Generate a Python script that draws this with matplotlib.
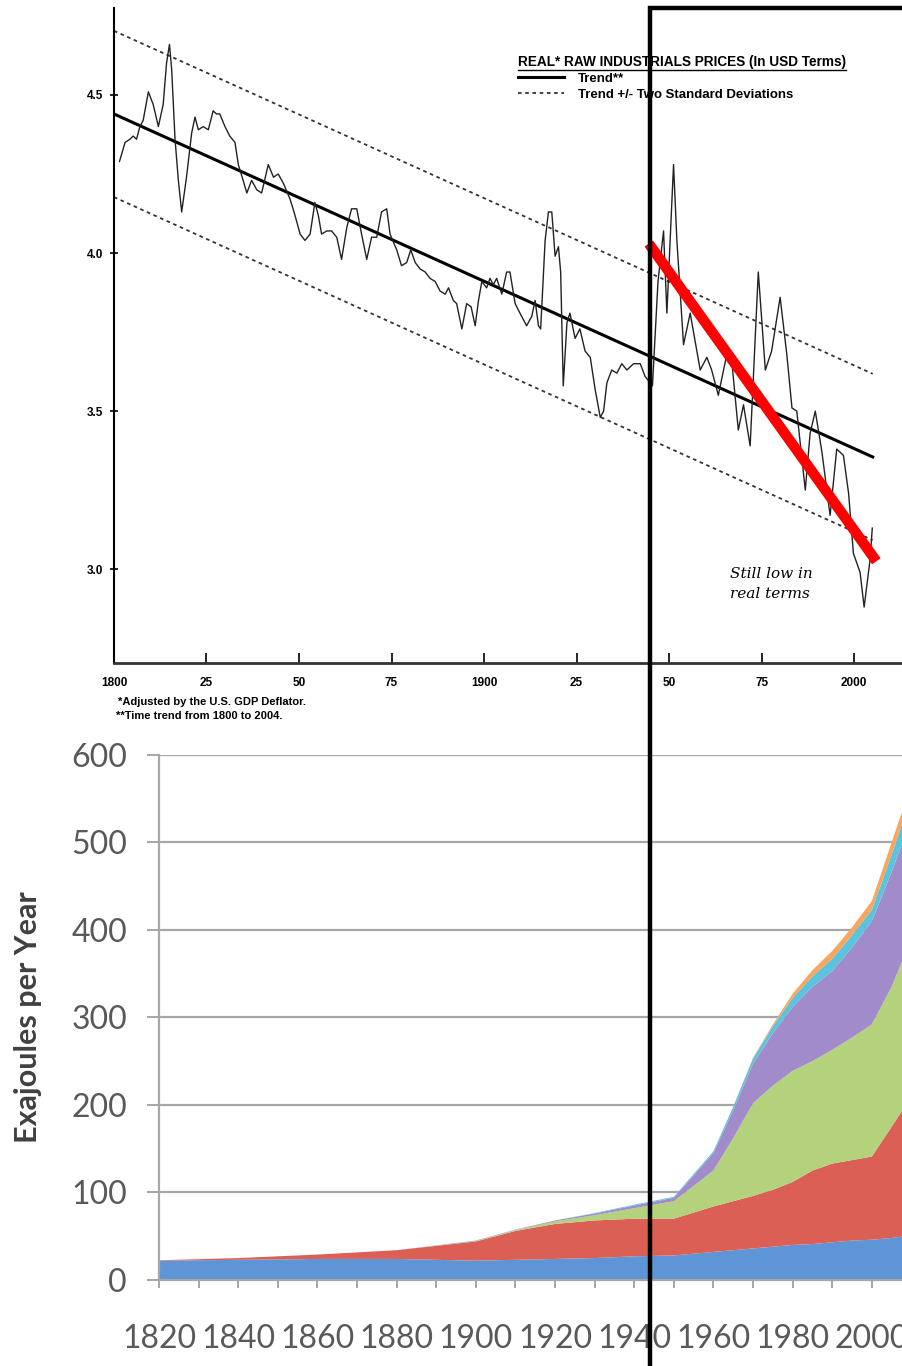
import matplotlib.pyplot as plt
from matplotlib.lines import Line2D
from matplotlib.patches import Rectangle

plt.rcParams['font.family'] = ['Liberation Sans', 'DejaVu Sans']

# --- top chart: real raw industrials prices (log scale values) ---
price_years = [1801.5, 1803, 1804.3, 1805.2, 1806.1, 1807, 1807.9, 1809.3, 1810.6, 1812,
               1813.3, 1814.2, 1815, 1815.6, 1816.5, 1817.4, 1818.3, 1819.6, 1821, 1821.9,
               1822.8, 1824.1, 1825.5, 1826.8, 1827.7, 1828.6, 1830, 1831.3, 1832.7, 1833.6,
               1834.9, 1835.9, 1837.2, 1838.6, 1839.9, 1841.7, 1843.1, 1844.4, 1845.8, 1847.6,
               1848.9, 1850.3, 1851.6, 1853, 1854.3, 1855.2, 1856.1, 1857.5, 1858.8, 1860.2,
               1861.5, 1862.9, 1864.2, 1865.6, 1866.9, 1868.3, 1869.6, 1871, 1872.3, 1873.7,
               1874.6, 1876.4, 1877.7, 1879.1, 1880.2, 1881.4, 1882.7, 1884.1, 1885.4, 1886.8,
               1888.1, 1889.5, 1890.4, 1891.7, 1892.6, 1894, 1895.3, 1896.5, 1897.6, 1898.5,
               1899.4, 1900.7, 1901.6, 1902.5, 1903.4, 1904.8, 1906.1, 1907, 1908.4, 1909.7,
               1911.5, 1912.9, 1913.8, 1914.7, 1915.3, 1916.5, 1917.4, 1918.3, 1919.2, 1920.1,
               1920.7, 1921.4, 1922.4, 1923.2, 1924.6, 1925.9, 1927.3, 1928.7, 1930, 1931.4,
               1932.3, 1933.2, 1934.5, 1935.9, 1937.2, 1938.6, 1940.4, 1942.2, 1943.5, 1945.5,
               1947, 1948.5, 1949.4, 1951.2, 1952.1, 1953.9, 1955.7, 1958.4, 1960.2, 1961.5,
               1963.3, 1965.6, 1967, 1968.7, 1970.1, 1971.9, 1974.1, 1976, 1977.7, 1980,
               1981.8, 1983.2, 1984.5, 1986.8, 1988.1, 1989.5, 1991.3, 1993.5, 1995.3, 1997.1,
               1998.5, 1999.8, 2001.6, 2002.7, 2004.3, 2004.9]
price_values = [4.29, 4.35, 4.36, 4.37, 4.36, 4.40, 4.42, 4.51, 4.47, 4.40,
                4.47, 4.60, 4.66, 4.58, 4.36, 4.23, 4.13, 4.24, 4.38, 4.43,
                4.39, 4.40, 4.39, 4.45, 4.44, 4.44, 4.40, 4.37, 4.35, 4.28,
                4.23, 4.19, 4.23, 4.20, 4.19, 4.28, 4.24, 4.25, 4.22, 4.17,
                4.12, 4.06, 4.04, 4.06, 4.16, 4.12, 4.06, 4.07, 4.07, 4.05,
                3.98, 4.08, 4.14, 4.14, 4.06, 3.98, 4.05, 4.05, 4.13, 4.14,
                4.06, 4.01, 3.96, 3.97, 4.01, 3.97, 3.95, 3.94, 3.92, 3.91,
                3.88, 3.87, 3.89, 3.85, 3.84, 3.76, 3.84, 3.83, 3.77, 3.85,
                3.91, 3.89, 3.92, 3.90, 3.92, 3.87, 3.94, 3.94, 3.84, 3.81,
                3.77, 3.80, 3.85, 3.77, 3.76, 4.04, 4.13, 4.13, 3.99, 4.02,
                3.94, 3.58, 3.78, 3.81, 3.73, 3.76, 3.69, 3.67, 3.57, 3.48,
                3.50, 3.59, 3.63, 3.62, 3.65, 3.63, 3.65, 3.65, 3.61, 3.58,
                3.91, 4.07, 3.81, 4.28, 4.04, 3.71, 3.81, 3.63, 3.67, 3.63,
                3.55, 3.68, 3.65, 3.44, 3.52, 3.39, 3.94, 3.63, 3.69, 3.86,
                3.68, 3.51, 3.50, 3.25, 3.43, 3.50, 3.37, 3.17, 3.38, 3.36,
                3.24, 3.05, 2.99, 2.88, 3.03, 3.13]

trend_years = [1800, 2005]
trend_values = [4.44, 3.355]
upper_values = [4.703, 3.618]
lower_values = [4.177, 3.092]
red_years = [1944.5, 2006]
red_values = [4.03, 3.025]

price_xticks = [1800, 1825, 1850, 1875, 1900, 1925, 1950, 1975, 2000]
price_xlabels = ['1800', '25', '50', '75', '1900', '25', '50', '75', '2000']
price_yticks = [3.0, 3.5, 4.0, 4.5]
price_ylabels = ['3.0', '3.5', '4.0', '4.5']

# --- bottom chart: world energy consumption (exajoules per year) ---
energy_years = [1820, 1840, 1860, 1880, 1900, 1910, 1920, 1930, 1940, 1950, 1960,
                1965, 1970, 1975, 1980, 1985, 1990, 1995, 2000, 2005, 2010]
biomass = [22, 23, 24, 24, 22, 23, 24, 25, 27, 28, 32, 34, 36, 38, 40, 41, 43, 45, 46, 48, 51]
coal = [0.5, 2, 5, 10, 22, 33, 40, 43, 43, 42, 52, 56, 60, 65, 72, 84, 90, 92, 95, 127, 159]
oil = [0, 0, 0, 0, 0.5, 1, 3, 6, 12, 20, 41, 72, 106, 119, 127, 125, 130, 140, 151, 160, 180]
gas = [0, 0, 0, 0, 0.5, 0.5, 1, 2, 3, 4, 20, 32, 45, 60, 73, 85, 90, 103, 118, 131, 138]
hydro = [0, 0, 0, 0, 0, 0, 0, 0.5, 1, 1, 2, 4, 6, 8, 10, 12, 14, 14, 13, 20, 24]
nuclear = [0, 0, 0, 0, 0, 0, 0, 0, 0, 0, 0, 0, 1, 2, 5, 7, 9, 9, 10, 14, 14]
energy_colors = ['#5e95d6', '#dc5f56', '#b3d27b', '#a18bca', '#5bc3dd', '#f8a55e']
energy_xticks = [1820, 1840, 1860, 1880, 1900, 1920, 1940, 1960, 1980, 2000]
energy_yticks = [0, 100, 200, 300, 400, 500, 600]

fig = plt.figure(figsize=(9.03, 13.66), dpi=100)

# top panel
ax1 = fig.add_axes([0.1262, 0.5146, 0.8738, 0.4795])
trend, = ax1.plot(trend_years, trend_values, color='black', lw=2.2)
band, = ax1.plot(trend_years, upper_values, color='#333333', lw=1.3, dashes=(2, 2))
ax1.plot(trend_years, lower_values, color='#333333', lw=1.3, dashes=(2, 2))
ax1.plot(price_years, price_values, color='#222222', lw=1.0)
ax1.plot(red_years, red_values, color='#ff0000', lw=7.5, solid_capstyle='butt')
ax1.set_xlim(1800, 2013.2)
ax1.set_ylim(2.703, 4.775)
ax1.set_xticks(price_xticks)
ax1.set_xticklabels(price_xlabels, fontsize=8.5, fontweight='bold')
ax1.set_yticks(price_yticks)
ax1.set_yticklabels(price_ylabels, fontsize=8.5, fontweight='bold')
ax1.tick_params(axis='x', direction='in', length=7, width=1.2, pad=10)
ax1.tick_params(axis='y', direction='inout', length=6, width=1.2, pad=5)
for s in ['top', 'right']:
    ax1.spines[s].set_visible(False)
ax1.spines['left'].set_linewidth(1.5)
ax1.spines['bottom'].set_linewidth(2.0)
ax1.spines['bottom'].set_color('#333333')

leg = ax1.legend([trend, band], ['Trend**', 'Trend +/- Two Standard Deviations'],
                 title='REAL* RAW INDUSTRIALS PRICES (In USD Terms)',
                 loc='upper left', bbox_to_anchor=(511 / 903, 1 - 48 / 1366),
                 bbox_transform=fig.transFigure, frameon=False, alignment='left',
                 handlelength=3.5, handletextpad=1.1, labelspacing=0.3, borderpad=0,
                 prop={'size': 9.5, 'weight': 'bold'},
                 title_fontproperties={'size': 9.8, 'weight': 'bold'})

ax1.text(1966.5, 2.985, 'Still low in', fontsize=11, style='italic',
         family='DejaVu Serif', va='center')
ax1.text(1966.5, 2.922, 'real terms', fontsize=11, style='italic',
         family='DejaVu Serif', va='center')

fig.text(118 / 903, 1 - 702 / 1366, '*Adjusted by the U.S. GDP Deflator.',
         fontsize=8, fontweight='bold', va='center')
fig.text(116 / 903, 1 - 716 / 1366, '**Time trend from 1800 to 2004.',
         fontsize=8, fontweight='bold', va='center')

# bottom panel
ax2 = fig.add_axes([0.1761, 0.0630, 0.8332, 0.3843])
ax2.stackplot(energy_years, biomass, coal, oil, gas, hydro, nuclear,
              colors=energy_colors, linewidth=0)
ax2.set_xlim(1820, 2010)
ax2.set_ylim(0, 600)
ax2.set_axisbelow(True)
ax2.yaxis.grid(True, color='#a6a6a6', lw=1.6)
ax2.set_yticks(energy_yticks)
ax2.set_xticks(energy_xticks)
ax2.set_xticks(range(1830, 2011, 20), minor=True)
for lab in ax2.get_xticklabels() + ax2.get_yticklabels():
    lab.set_family(['Lato', 'DejaVu Sans'])
    lab.set_fontsize(23)
    lab.set_color('#595959')
ax2.tick_params(axis='both', which='both', color='#a6a6a6', width=1.4)
ax2.tick_params(axis='x', which='both', length=6, pad=26)
ax2.tick_params(axis='y', length=9, pad=14)
for s in ['top', 'right']:
    ax2.spines[s].set_visible(False)
ax2.spines['left'].set_color('#a6a6a6')
ax2.spines['bottom'].set_color('#a6a6a6')
ax2.spines['left'].set_linewidth(1.6)
ax2.spines['bottom'].set_linewidth(1.6)
ax2.set_ylabel('Exajoules per Year', fontsize=22, fontweight='bold',
               color='#404040', family=['Lato', 'DejaVu Sans'])
ax2.yaxis.set_label_coords(-0.156, 0.5)

# black highlight frame over both panels
fig.patches.append(Rectangle((650 / 903, -0.01), 0.4, 1.01 - 8 / 1366,
                             transform=fig.transFigure, fill=False,
                             edgecolor='black', lw=3.2, zorder=10))

# underline the legend title
fig.canvas.draw()
bb = leg.get_title().get_window_extent()
fig.add_artist(Line2D([bb.x0, bb.x1], [bb.y0 - 1, bb.y0 - 1], color='black',
                      lw=1.0, transform=None))

fig.savefig('out.png', dpi=100)
